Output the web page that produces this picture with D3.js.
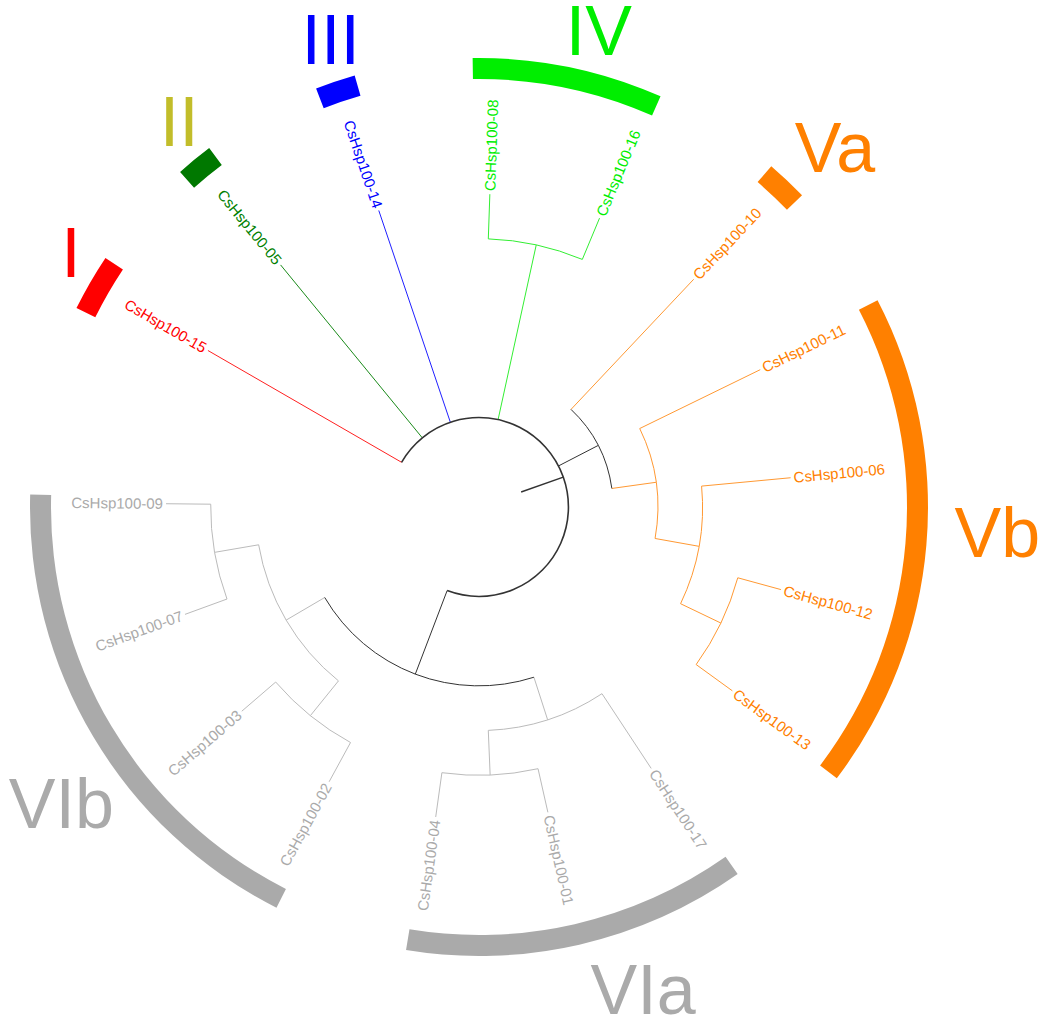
<!DOCTYPE html>
<html><head><meta charset="utf-8">
<script src="https://cdn.jsdelivr.net/npm/d3@7"></script>
<style>body{margin:0;background:#fff}svg{display:block}</style>
</head><body>
<svg id="chart" width="1044" height="1023"></svg>
<script>
// ---------------- DATA ----------------
// Tree topology (Newick), leaves in clockwise order
const newick = "(CsHsp100-15,CsHsp100-05,CsHsp100-14,(CsHsp100-08,CsHsp100-16),(CsHsp100-10,(CsHsp100-11,(CsHsp100-06,(CsHsp100-12,CsHsp100-13)))),((CsHsp100-17,(CsHsp100-01,CsHsp100-04)),((CsHsp100-02,CsHsp100-03),(CsHsp100-07,CsHsp100-09))));";

// Groups (subfamilies)
const groupNames = ["I", "II", "III", "IV", "Va", "Vb", "VIa", "VIb"];
const groupLeaves = [
  ["CsHsp100-15"],
  ["CsHsp100-05"],
  ["CsHsp100-14"],
  ["CsHsp100-08", "CsHsp100-16"],
  ["CsHsp100-10"],
  ["CsHsp100-11", "CsHsp100-06", "CsHsp100-12", "CsHsp100-13"],
  ["CsHsp100-17", "CsHsp100-01", "CsHsp100-04"],
  ["CsHsp100-02", "CsHsp100-03", "CsHsp100-07", "CsHsp100-09"]
];

// ---------------- STYLE / LAYOUT ----------------
const W = 1044, H = 1023;
const cx = 479, cy = 507;
const leafRadius = 313;
const maxLevel = 7;
const angleStart = 300, angleEnd = 630.6;   // degrees, clockwise from north
const bandInner = 428, bandOuter = 449;
const bandPadStart = [3.7, 2.4, 2.6, 2.8, 2.7, 1.4, 1.8, 1.8];
const bandPadEnd   = [3.7, 2.4, 2.6, 1.2, 2.7, 1.2, 1.4, 1.0];
const branchColors = ["#ff2020", "#1a8a1a", "#2020ff", "#33ee33", "#ff9933", "#ff9933", "#bbbbbb", "#bbbbbb"];
const textColors  = ["#ff0000", "#008000", "#0000ff", "#00ee00", "#ff8000", "#ff8000", "#aaaaaa", "#aaaaaa"];
const bandColors  = ["#ff0000", "#007800", "#0000ff", "#00ee00", "#ff8000", "#ff8000", "#aaaaaa", "#aaaaaa"];
const groupLabelColors = ["#ff0000", "#c2bd2a", "#0000ff", "#00ee00", "#ff8000", "#ff8000", "#aaaaaa", "#aaaaaa"];
const groupLabelPolar = [[302, 481], [322.2, 489], [342.4, 490.5], [14.1, 492], [44.65, 506.5], [92.8, 519], [161.2, 509.3], [234.7, 511.8]];
const rootColor = "#333333";
const font = "'Liberation Sans', Arial, sans-serif";

// ---------------- PARSE ----------------
function parseNewick(s) {
  let i = 0;
  function node() {
    const n = {};
    if (s[i] === "(") {
      i++; n.children = [];
      while (true) {
        n.children.push(node());
        if (s[i] === ",") { i++; continue; }
        if (s[i] === ")") { i++; break; }
      }
    }
    let name = "";
    while (i < s.length && !",();".includes(s[i])) name += s[i++];
    n.name = name;
    return n;
  }
  return node();
}

const root = d3.hierarchy(parseNewick(newick));
const leaves = root.leaves();
const leafGroup = {};
groupLeaves.forEach((ls, g) => ls.forEach(l => leafGroup[l] = g));

const angle = d3.scaleLinear().domain([0, leaves.length - 1]).range([angleStart, angleEnd]);
const radius = d3.scaleLinear().domain([0, maxLevel]).range([0, leafRadius]);

leaves.forEach((l, i) => { l.theta = angle(i); });
root.eachAfter(n => {
  n.r = radius(maxLevel - n.height);
  if (n.children) {
    n.theta = (n.children[0].theta + n.children[n.children.length - 1].theta) / 2;
    const gs = new Set(n.leaves().map(l => leafGroup[l.data.name]));
    n.group = gs.size === 1 ? [...gs][0] : -1;
  } else {
    n.group = leafGroup[n.data.name];
  }
});

const rad = d => d * Math.PI / 180;
const px = (r, t) => cx + r * Math.sin(rad(t));
const py = (r, t) => cy - r * Math.cos(rad(t));

function colorOf(n) {
  if (n.group >= 0) return branchColors[n.group];
  return rootColor;
}

const svg = d3.select("#chart");
svg.append("rect").attr("width", W).attr("height", H).attr("fill", "#fff");
const g = svg.append("g");

// radial branches
root.descendants().forEach(n => {
  const r0 = n.parent ? n.parent.r : radius(maxLevel - root.height - 1);
  g.append("line")
    .attr("x1", px(r0, n.theta)).attr("y1", py(r0, n.theta))
    .attr("x2", px(n.r, n.theta)).attr("y2", py(n.r, n.theta))
    .attr("stroke", n.parent ? colorOf(n) : rootColor)
    .attr("stroke-width", n.parent ? 1 : 1.4);
});

// arcs at internal nodes
root.descendants().filter(n => n.children).forEach(n => {
  const a0 = n.children[0].theta, a1 = n.children[n.children.length - 1].theta;
  const p = d3.path();
  p.arc(cx, cy, n.r, rad(a0 - 90), rad(a1 - 90), false);
  g.append("path").attr("d", p.toString()).attr("fill", "none")
    .attr("stroke", colorOf(n)).attr("stroke-width", n === root ? 1.6 : 1);
});

// leaf labels
leaves.forEach(l => {
  const t = ((l.theta % 360) + 360) % 360;
  const flip = t > 180;
  g.append("text")
    .attr("transform", `translate(${cx},${cy}) rotate(${t - 90}) translate(${leafRadius + 3},0)` + (flip ? " rotate(180)" : ""))
    .attr("text-anchor", flip ? "end" : "start")
    .attr("dy", "0.35em")
    .attr("font-family", font).attr("font-size", 15)
    .attr("fill", textColors[leafGroup[l.data.name]])
    .text(l.data.name);
});

// group bands + labels
const arcGen = d3.arc().innerRadius(bandInner).outerRadius(bandOuter);
const byName = {}; leaves.forEach(l => byName[l.data.name] = l);
groupLeaves.forEach((ls, gi) => {
  const ts = ls.map(n => byName[n].theta);
  const a0 = d3.min(ts) - bandPadStart[gi], a1 = d3.max(ts) + bandPadEnd[gi];
  g.append("path")
    .attr("transform", `translate(${cx},${cy})`)
    .attr("d", arcGen({startAngle: rad(a0), endAngle: rad(a1)}))
    .attr("fill", bandColors[gi]);
  const [la, lr] = groupLabelPolar[gi];
  g.append("text")
    .attr("x", px(lr, la)).attr("y", py(lr, la) + 25)
    .attr("text-anchor", "middle")
    .attr("font-family", font).attr("font-size", 70)
    .attr("fill", groupLabelColors[gi])
    .text(groupNames[gi]);
});
</script>
</body></html>
